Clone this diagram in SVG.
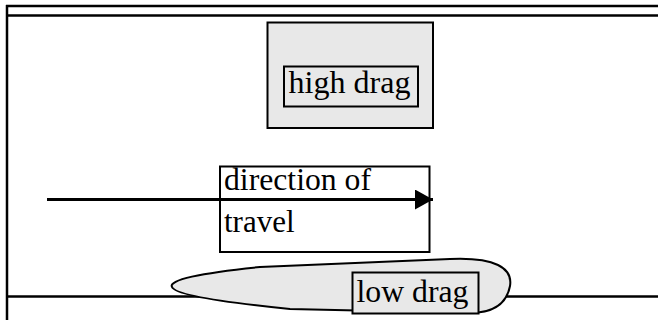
<svg xmlns="http://www.w3.org/2000/svg" width="658" height="320" viewBox="0 0 658 320">
<style>
.frame{stroke:#000;stroke-width:2.5;fill:none}
.box{stroke:#000;stroke-width:2;}
.lbl{font-size:31px;fill:#000}
.gray{fill:#e8e8e8}
.white{fill:#fff}
</style>
<defs>
<marker id="arr" markerWidth="20" markerHeight="22" refX="18" refY="10" orient="auto" markerUnits="userSpaceOnUse">
<path d="M0,0 L18,10 L0,20 Z" fill="#000"/>
</marker>
</defs>
<rect width="658" height="320" fill="#fff"/>
<g id="frame">
<line class="frame" x1="6" y1="6" x2="658" y2="6"/>
<line class="frame" x1="6" y1="15.5" x2="658" y2="15.5"/>
<line class="frame" x1="7" y1="5" x2="7" y2="320"/>
<line class="frame" x1="6" y1="296.5" x2="658" y2="296.5"/>
</g>
<g id="high-drag">
<rect class="box gray" x="267.5" y="22.5" width="165.5" height="105.5"/>
<rect class="box gray" x="284" y="66.5" width="134" height="40"/>
<text class="lbl" font-family="Liberation Serif, serif" x="288.5" y="92.5" textLength="122" lengthAdjust="spacingAndGlyphs">high drag</text>
</g>
<g id="direction">
<rect class="box white" x="220" y="166.5" width="209.5" height="85.5"/>
<text class="lbl" font-family="Liberation Serif, serif" x="224" y="190" textLength="147" lengthAdjust="spacingAndGlyphs">direction of</text>
<text class="lbl" font-family="Liberation Serif, serif" x="224" y="231.5">travel</text>
</g>
<g id="connectors">
<line x1="47" y1="199.5" x2="433" y2="199.5" stroke="#000" stroke-width="2.8" marker-end="url(#arr)"/>
</g>
<g id="low-drag">
<path class="box gray" d="M172,287 C168,280 200,273 260,267 L450,259 C495,257 513,268 510,286 C507,302 495,313 470,313 L290,309 C220,302 175,295 172,287 Z"/>
<rect class="box gray" x="352.5" y="272.5" width="126" height="41"/>
<text class="lbl" font-family="Liberation Serif, serif" x="356.5" y="301.5" textLength="112" lengthAdjust="spacingAndGlyphs">low drag</text>
</g>
</svg>
